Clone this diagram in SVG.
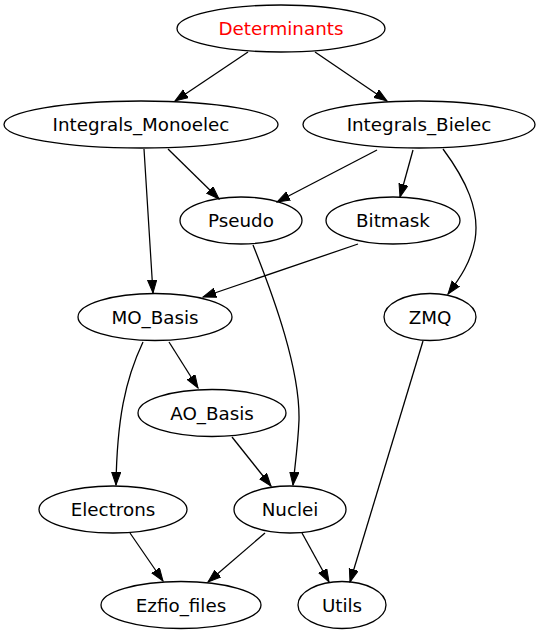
<svg xmlns="http://www.w3.org/2000/svg" width="541" height="635" viewBox="0 0 541 635">
<style>
.node ellipse{fill:none;stroke:#000;stroke-width:1.3}
.node text{font-family:"DejaVu Sans",sans-serif;font-size:18.3px;text-anchor:middle;fill:#000}
.edges path{fill:none;stroke:#000;stroke-width:1.3}
</style>
<defs>
<marker id="arr" markerUnits="userSpaceOnUse" markerWidth="14" markerHeight="11" refX="13" refY="5" orient="auto">
<path d="M0,0.4 L13,5 L0,9.6 z" fill="#000" stroke="#000" stroke-width="1"/>
</marker>
</defs>
<rect width="541" height="635" fill="#fff"/>
<g class="edges">
<path marker-end="url(#arr)" d="M248,52 L175,101"/>
<path marker-end="url(#arr)" d="M315,52 L387,101"/>
<path marker-end="url(#arr)" d="M168,149 L219,199"/>
<path marker-end="url(#arr)" d="M144,149 L153,293"/>
<path marker-end="url(#arr)" d="M377,150 L277,202"/>
<path marker-end="url(#arr)" d="M413,150 L400,197"/>
<path marker-end="url(#arr)" d="M443,149 C466,180 480,210 475,240 C471,262 460,278 448,294"/>
<path marker-end="url(#arr)" d="M358,244 L203,297"/>
<path marker-end="url(#arr)" d="M253,245 C275,300 300,370 299,420 C298,445 295,465 293,485"/>
<path marker-end="url(#arr)" d="M169,342 L198,388"/>
<path marker-end="url(#arr)" d="M143,342 C125,380 117,420 116,485"/>
<path marker-end="url(#arr)" d="M232,437 L271,486"/>
<path marker-end="url(#arr)" d="M423,341 L350,582"/>
<path marker-end="url(#arr)" d="M130,533 L163,581"/>
<path marker-end="url(#arr)" d="M265,533 L208,582"/>
<path marker-end="url(#arr)" d="M302,533 L329,582"/>
</g>
<g id="Determinants" class="node"><ellipse cx="281" cy="28.5" rx="104" ry="23.5"/><text x="281" y="35" fill="#ff0000" style="fill:#ff0000">Determinants</text></g>
<g id="Integrals_Monoelec" class="node"><ellipse cx="141" cy="124.5" rx="137" ry="23.5"/><text x="141" y="131">Integrals_Monoelec</text></g>
<g id="Integrals_Bielec" class="node"><ellipse cx="419" cy="124.5" rx="116" ry="23.5"/><text x="419" y="131">Integrals_Bielec</text></g>
<g id="Pseudo" class="node"><ellipse cx="241" cy="220.5" rx="61" ry="23.5"/><text x="241" y="227">Pseudo</text></g>
<g id="Bitmask" class="node"><ellipse cx="393" cy="220.5" rx="67" ry="23.5"/><text x="393" y="227">Bitmask</text></g>
<g id="MO_Basis" class="node"><ellipse cx="155" cy="317" rx="77" ry="23.5"/><text x="155" y="323.5">MO_Basis</text></g>
<g id="ZMQ" class="node"><ellipse cx="430" cy="317" rx="46" ry="23.5"/><text x="430" y="323.5">ZMQ</text></g>
<g id="AO_Basis" class="node"><ellipse cx="212" cy="413" rx="74" ry="23.5"/><text x="212" y="419.5">AO_Basis</text></g>
<g id="Electrons" class="node"><ellipse cx="113" cy="509.5" rx="74" ry="23.5"/><text x="113" y="516">Electrons</text></g>
<g id="Nuclei" class="node"><ellipse cx="290" cy="509.5" rx="56" ry="23.5"/><text x="290" y="516">Nuclei</text></g>
<g id="Ezfio_files" class="node"><ellipse cx="181" cy="605" rx="80" ry="23.5"/><text x="181" y="611.5">Ezfio_files</text></g>
<g id="Utils" class="node"><ellipse cx="342" cy="605" rx="44" ry="23.5"/><text x="342" y="611.5">Utils</text></g>
</svg>
